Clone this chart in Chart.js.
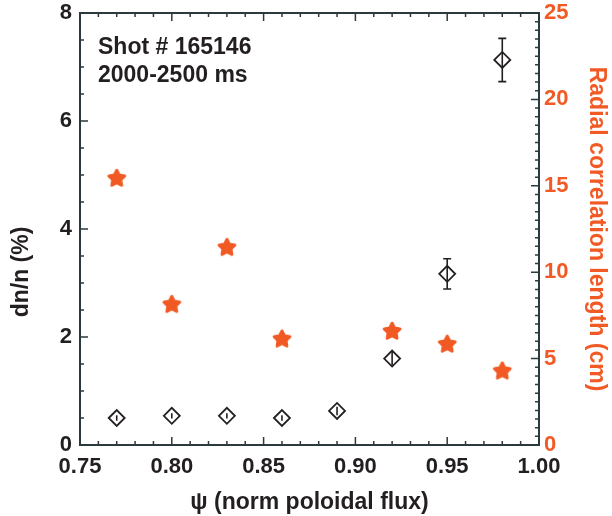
<!DOCTYPE html>
<html>
<head>
<meta charset="utf-8">
<script src="https://cdn.jsdelivr.net/npm/chart.js@4.4.1/dist/chart.umd.min.js"></script>
<style>
  body { margin: 0; background: #fff; }
  #wrap { width: 612px; height: 516px; }
</style>
</head>
<body>
<div id="wrap"><canvas id="plot" width="612" height="516"></canvas></div>
<script>
// psi positions of the measurements
const psi = [0.77, 0.80, 0.83, 0.86, 0.89, 0.92, 0.95, 0.98];
// dn/n (%) with error bars
const dnn = [0.50, 0.54, 0.54, 0.50, 0.63, 1.60, 3.17, 7.13];
const dnnErr = [0.05, 0.05, 0.05, 0.05, 0.08, 0.12, 0.28, 0.40];
// radial correlation length (cm)
const corrLen = [15.45, 8.15, 11.45, 6.15, 6.6, 5.85, 4.3];
const corrPsi = [0.77, 0.80, 0.83, 0.86, 0.92, 0.95, 0.98];

const xTicks = [0.75, 0.80, 0.85, 0.90, 0.95, 1.00];
const leftTicks = [0, 2, 4, 6, 8];
const rightTicks = [0, 5, 10, 15, 20, 25];

const INK = '#231f20';
const ORANGE = '#f15a24';
const FONT = "'Liberation Sans Narrow', 'Liberation Sans', Arial, sans-serif";

// five armed star marker
function makeStar() {
  const c = document.createElement('canvas');
  c.width = 24; c.height = 24;
  const g = c.getContext('2d');
  g.fillStyle = ORANGE;
  g.strokeStyle = ORANGE;
  g.lineWidth = 3;
  g.lineJoin = 'round';
  g.beginPath();
  for (let i = 0; i < 10; i++) {
    const r = i % 2 === 0 ? 8.3 : 4.2;
    const a = -Math.PI / 2 + i * Math.PI / 5;
    const px = 12 + r * Math.cos(a), py = 12.5 + r * Math.sin(a);
    if (i === 0) g.moveTo(px, py); else g.lineTo(px, py);
  }
  g.closePath();
  g.fill();
  g.stroke();
  return c;
}

// keep the plot box fixed, no half-label padding at the ends
function fixVertical(width) {
  return s => {
    s.width = width;
    s.paddingTop = 0;
    s.paddingBottom = 0;
  };
}

const framePlugin = {
  id: 'frame',
  afterDatasetsDraw(chart) {
    const { ctx, chartArea, scales } = chart;
    const { left, right, top, bottom } = chartArea;
    const x = scales.x, y = scales.y, y2 = scales.y2;
    ctx.save();
    // error bars
    ctx.strokeStyle = INK;
    ctx.lineWidth = 1.6;
    psi.forEach((p, i) => {
      const px = x.getPixelForValue(p);
      const y1 = y.getPixelForValue(dnn[i] - dnnErr[i]);
      const yb = y.getPixelForValue(dnn[i] + dnnErr[i]);
      ctx.beginPath();
      ctx.moveTo(px, y1); ctx.lineTo(px, yb);
      if (dnnErr[i] > 0.2) {
        ctx.moveTo(px - 4, y1); ctx.lineTo(px + 4, y1);
        ctx.moveTo(px - 4, yb); ctx.lineTo(px + 4, yb);
      }
      ctx.stroke();
    });
    // top border
    ctx.strokeStyle = '#2b3a3f';
    ctx.lineWidth = 2;
    ctx.beginPath();
    ctx.moveTo(left, top); ctx.lineTo(right, top);
    ctx.stroke();
    // inward ticks
    ctx.lineWidth = 1.5;
    ctx.beginPath();
    for (let k = 0; k <= 25; k++) {
      const v = 0.75 + k * 0.01;
      const px = x.getPixelForValue(v);
      const len = k % 5 === 0 ? 8 : 4;
      ctx.moveTo(px, bottom); ctx.lineTo(px, bottom - len);
      ctx.moveTo(px, top); ctx.lineTo(px, top + len);
    }
    for (let k = 0; k <= 16; k++) {
      const py = y.getPixelForValue(k * 0.5);
      const len = k % 4 === 0 ? 8 : 4;
      ctx.moveTo(left, py); ctx.lineTo(left + len, py);
    }
    for (let k = 0; k <= 50; k++) {
      const py = y2.getPixelForValue(k * 0.5);
      const len = k % 10 === 0 ? 8 : 4;
      ctx.moveTo(right, py); ctx.lineTo(right - len, py);
    }
    ctx.stroke();
    // shot label
    ctx.fillStyle = INK;
    ctx.font = 'bold 23px ' + FONT;
    ctx.textBaseline = 'alphabetic';
    ctx.fillText('Shot # 165146', left + 18, top + 41);
    ctx.fillText('2000-2500 ms', left + 18, top + 69);
    // left axis title, sits a little below the middle
    ctx.translate(22, 272);
    ctx.rotate(-Math.PI / 2);
    ctx.textAlign = 'center';
    ctx.textBaseline = 'middle';
    ctx.fillText('dn/n (%)', 0, 0);
    ctx.restore();
  }
};

const config = {
  type: 'scatter',
  data: {
    datasets: [
      {
        label: 'dn/n',
        data: psi.map((p, i) => ({ x: p, y: dnn[i] })),
        yAxisID: 'y',
        pointStyle: 'rectRot',
        pointRadius: 8,
        pointBorderWidth: 1.8,
        borderColor: INK,
        backgroundColor: 'rgba(0,0,0,0)'
      },
      {
        label: 'Lr',
        data: corrPsi.map((p, i) => ({ x: p, y: corrLen[i] })),
        yAxisID: 'y2',
        pointStyle: makeStar(),
        borderColor: ORANGE,
        backgroundColor: ORANGE
      }
    ]
  },
  options: {
    responsive: false,
    animation: false,
    layout: { padding: { top: 13, left: 0, right: 0, bottom: 0 } },
    plugins: { legend: { display: false }, tooltip: { enabled: false } },
    scales: {
      x: {
        type: 'linear',
        position: 'bottom',
        min: 0.75, max: 1.0,
        afterBuildTicks: s => { s.ticks = xTicks.map(v => ({ value: v })); },
        afterFit: s => { s.height = 71; },
        grid: { drawOnChartArea: false, drawTicks: false },
        border: { color: '#2b3a3f', width: 2 },
        ticks: {
          padding: 9,
          color: INK,
          font: { family: FONT, size: 22, weight: 'bold' },
          callback: v => v.toFixed(2)
        },
        title: {
          display: true,
          text: 'ψ (norm poloidal flux)',
          color: INK,
          padding: { top: 4, bottom: 0 },
          font: { family: FONT, size: 23, weight: 'bold' }
        }
      },
      y: {
        position: 'left',
        min: 0, max: 8,
        afterBuildTicks: s => { s.ticks = leftTicks.map(v => ({ value: v })); },
        afterFit: fixVertical(80),
        grid: { drawOnChartArea: false, drawTicks: false },
        border: { color: '#2b3a3f', width: 2 },
        ticks: {
          padding: 8,
          color: INK,
          font: { family: FONT, size: 22, weight: 'bold' }
        },
        title: { display: false }
      },
      y2: {
        position: 'right',
        min: 0, max: 25,
        afterBuildTicks: s => { s.ticks = rightTicks.map(v => ({ value: v })); },
        afterFit: fixVertical(73),
        grid: { drawOnChartArea: false, drawTicks: false },
        border: { color: '#2b3a3f', width: 2 },
        ticks: {
          padding: 5,
          color: ORANGE,
          font: { family: FONT, size: 22, weight: 'bold' }
        },
        title: {
          display: true,
          text: 'Radial correlation length (cm)',
          color: ORANGE,
          padding: { top: 2, bottom: 0 },
          font: { family: FONT, size: 23, weight: 'bold' }
        }
      }
    }
  },
  plugins: [framePlugin]
};

new Chart(document.getElementById('plot'), config);
</script>
</body>
</html>
